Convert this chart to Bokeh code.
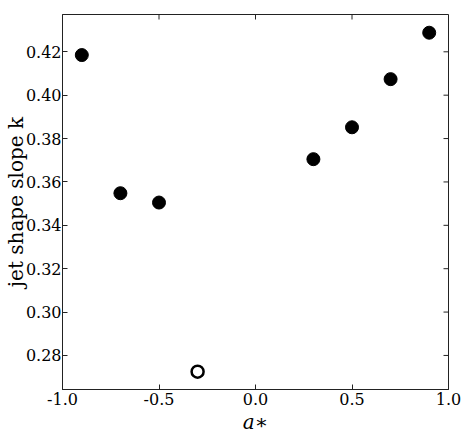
import math
from bokeh.plotting import figure
from bokeh.models import (FixedTicker, Range1d, ColumnDataSource, NumeralTickFormatter)
from bokeh.embed import file_html
from bokeh.resources import INLINE

# data
spin = [-0.9, -0.7, -0.5, 0.3, 0.5, 0.7, 0.9]
slope = [0.4185, 0.3548, 0.3505, 0.3705, 0.3852, 0.4074, 0.4288]
spin_open = [-0.3]
slope_open = [0.2725]
x_ticks = [-1.0, -0.5, 0.0, 0.5, 1.0]
y_ticks = [0.28, 0.30, 0.32, 0.34, 0.36, 0.38, 0.40, 0.42]
x_range = (-1.0, 1.0)
y_range = (0.2643, 0.4372)
x_label = "a∗"
y_label = "jet shape slope k"

FONT = "DejaVu Serif"
TICK_FS = "16px"
LABEL_FS = "20px"
EDGE = "#222222"

p = figure(frame_width=386, frame_height=375, output_backend="svg",
           toolbar_location=None, x_range=Range1d(*x_range), y_range=Range1d(*y_range),
           min_border_left=62, min_border_right=13, min_border_top=14, min_border_bottom=47)
p.background_fill_color = "white"
p.border_fill_color = "white"
p.outline_line_color = EDGE
p.outline_line_width = 1
p.xgrid.visible = False
p.ygrid.visible = False

for ax in (p.xaxis[0], p.yaxis[0]):
    ax.axis_line_color = EDGE
    ax.major_tick_line_color = EDGE
    ax.major_tick_in = 5
    ax.major_tick_out = 0
    ax.minor_tick_line_color = None
    ax.major_label_text_font = FONT
    ax.major_label_text_color = "black"
    ax.major_label_text_font_size = TICK_FS
    ax.axis_label_text_font = FONT
    ax.axis_label_text_font_size = LABEL_FS
    ax.axis_label_text_color = "black"

p.xaxis.ticker = FixedTicker(ticks=x_ticks)
p.yaxis.ticker = FixedTicker(ticks=y_ticks)
p.xaxis.formatter = NumeralTickFormatter(format="0.0")
p.yaxis.formatter = NumeralTickFormatter(format="0.00")
p.xaxis.major_label_standoff = 3
p.yaxis.major_label_standoff = 1
p.xaxis.axis_label = x_label
p.xaxis.axis_label_text_font_style = "italic"
p.xaxis.axis_label_standoff = 2
p.yaxis.axis_label = y_label
p.yaxis.axis_label_text_font_style = "normal"
p.yaxis.axis_label_standoff = -5

# mirrored inward ticks on the top and right edges
p.ray(x=x_ticks, y=[y_range[1]] * len(x_ticks), length=5, length_units="screen",
      angle=-math.pi / 2, line_color=EDGE, line_width=1)
p.ray(x=[x_range[1]] * len(y_ticks), y=y_ticks, length=5, length_units="screen",
      angle=math.pi, line_color=EDGE, line_width=1)

src = ColumnDataSource(dict(x=spin, y=slope))
p.scatter("x", "y", source=src, size=13, fill_color="black", line_color="black")
src2 = ColumnDataSource(dict(x=spin_open, y=slope_open))
p.scatter("x", "y", source=src2, size=12, fill_color="white", line_color="black", line_width=2.5)

open("out.html", "w").write(file_html(p, INLINE))
